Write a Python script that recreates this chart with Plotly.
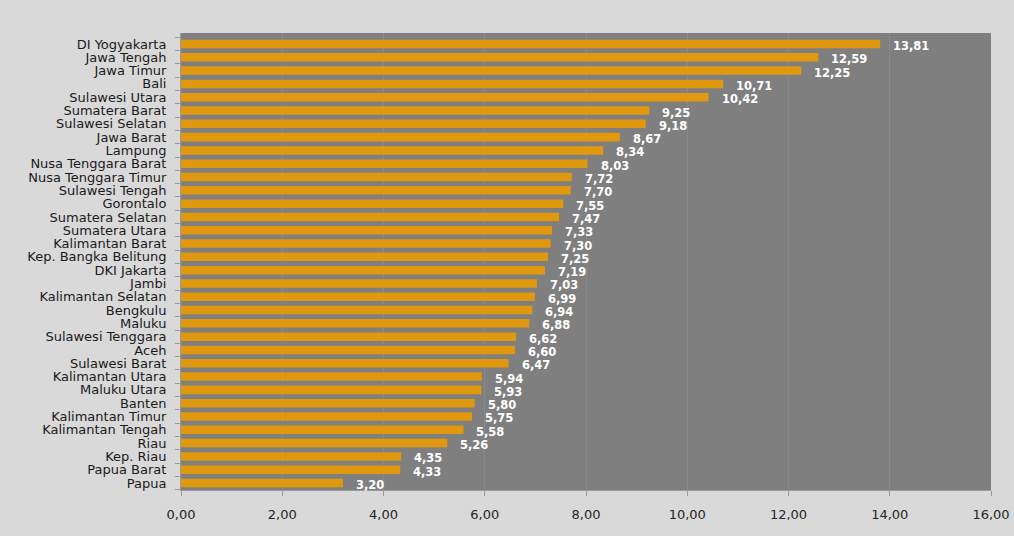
import plotly.graph_objects as go

provinces = ["DI Yogyakarta", "Jawa Tengah", "Jawa Timur", "Bali", "Sulawesi Utara",
             "Sumatera Barat", "Sulawesi Selatan", "Jawa Barat", "Lampung",
             "Nusa Tenggara Barat", "Nusa Tenggara Timur", "Sulawesi Tengah", "Gorontalo",
             "Sumatera Selatan", "Sumatera Utara", "Kalimantan Barat", "Kep. Bangka Belitung",
             "DKI Jakarta", "Jambi", "Kalimantan Selatan", "Bengkulu", "Maluku",
             "Sulawesi Tenggara", "Aceh", "Sulawesi Barat", "Kalimantan Utara", "Maluku Utara",
             "Banten", "Kalimantan Timur", "Kalimantan Tengah", "Riau", "Kep. Riau",
             "Papua Barat", "Papua"]
values = [13.81, 12.59, 12.25, 10.71, 10.42, 9.25, 9.18, 8.67, 8.34, 8.03, 7.72, 7.70,
          7.55, 7.47, 7.33, 7.30, 7.25, 7.19, 7.03, 6.99, 6.94, 6.88, 6.62, 6.60, 6.47,
          5.94, 5.93, 5.80, 5.75, 5.58, 5.26, 4.35, 4.33, 3.20]
x_ticks = [0, 2, 4, 6, 8, 10, 12, 14, 16]

font_family = "DejaVu Sans, sans-serif"

fig = go.Figure(go.Bar(
    x=values, y=provinces, orientation="h",
    marker=dict(color="#E0980F", line=dict(width=0)),
    hoverinfo="x+y",
))

annotations = [
    dict(x=v, y=p, xref="x", yref="y", text=f"{v:.2f}".replace(".", ","),
         showarrow=False, xanchor="left", yanchor="middle", xshift=11, yshift=-2,
         font=dict(color="white", size=11.5, family=font_family, weight="bold"))
    for p, v in zip(provinces, values)
]

fig.update_layout(
    template="none",
    width=1014, height=536,
    margin=dict(l=181, r=23, t=33, b=46, pad=0),
    paper_bgcolor="#D9D9D9",
    plot_bgcolor="#7F7F7F",
    separators=",.",
    bargap=0.36,
    showlegend=False,
    font=dict(family=font_family, color="#1a1a1a"),
    xaxis=dict(range=[0, 16], tickvals=x_ticks, tickformat=".2f",
               automargin=False,
               showgrid=True, gridcolor="#898989", gridwidth=1,
               ticks="outside", ticklen=5, tickcolor="#9A9A9A",
               ticklabelstandoff=7,
               showline=True, linecolor="#9A9A9A", linewidth=1, zeroline=False,
               tickfont=dict(size=13, color="#262626"), fixedrange=True),
    yaxis=dict(autorange="reversed", type="category", tickmode="array",
               tickvals=provinces, ticktext=provinces, automargin=False,
               showgrid=False, zeroline=False,
               ticks="outside", ticklen=5, tickcolor="#9A9A9A",
               tickson="boundaries", ticklabelstandoff=11,
               showline=True, linecolor="#9A9A9A", linewidth=1,
               tickfont=dict(size=13, color="#1a1a1a"), fixedrange=True),
    annotations=annotations,
)

fig.write_html("out.html")
